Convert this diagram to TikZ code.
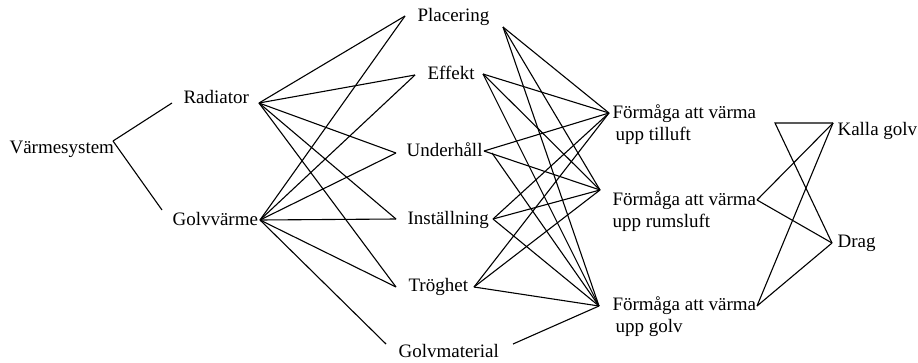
\documentclass[tikz,border=0pt]{standalone}
\usepackage{fontspec}
\setmainfont{Liberation Serif}

\begin{document}
\begin{tikzpicture}[x=1pt,y=-1pt,line width=1.1pt,
lbl/.style ={font=\fontsize{19}{22}\selectfont, inner sep=0pt, anchor=base west},
twoline/.style ={lbl, align=left}]

\useasboundingbox (0,0) rectangle (918,362);

% labels
\node[lbl] (vs) at (9,153) {Värmesystem};
\node[lbl] (rad) at (183,103) {Radiator};
\node[lbl] (gv) at (172,225) {Golvvärme};
\node[lbl] (pl) at (417,21) {Placering};
\node[lbl] (ef) at (427,79) {Effekt};
\node[lbl] (un) at (406,156) {Underhåll};
\node[lbl] (in) at (407,224) {Inställning};
\node[lbl] (tr) at (408,291) {Tröghet};
\node[lbl] (gm) at (398,357) {Golvmaterial};
\node[twoline] (f1) at (612,140) {Förmåga att värma\\\hspace*{3pt}upp tilluft};
\node[twoline] (f2) at (612,227) {Förmåga att värma\\upp rumsluft};
\node[twoline] (f3) at (612,332) {Förmåga att värma\\\hspace*{3pt}upp golv};
\node[lbl] (kg) at (837,135) {Kalla golv};
\node[lbl] (dr) at (837,247) {Drag};

% connection points
\coordinate (vs-r) at (113,141);
\coordinate (rad-l) at (172,103);
\coordinate (rad-r) at (259,103);
\coordinate (gv-l) at (162,210);
\coordinate (gv-r) at (260,220);
\coordinate (pl-l) at (405,16);
\coordinate (pl-r) at (503,27);
\coordinate (ef-l) at (415,75);
\coordinate (ef-r) at (483,74);
\coordinate (un-l) at (396,153);
\coordinate (un-r) at (484,151);
\coordinate (un-r2) at (492,153);
\coordinate (in-l) at (396,219);
\coordinate (in-r) at (493,219);
\coordinate (tr-l) at (396,287);
\coordinate (tr-r) at (474,287);
\coordinate (gm-l) at (386,344);
\coordinate (gm-r) at (513,344);
\coordinate (f1-l) at (609,113);
\coordinate (f2-l) at (600,190);
\coordinate (f2-r) at (757,200);
\coordinate (f3-l) at (599,306);
\coordinate (f3-r) at (757,306);
\coordinate (kg-l) at (833,123);
\coordinate (dr-l) at (832,243);
\coordinate (loose) at (775,123);

\draw (vs-r) edge (rad-l) edge (gv-l);
\draw (rad-r) edge (pl-l) edge (ef-l) edge (un-l) edge (in-l) edge (tr-l);
\draw (gv-r) edge (pl-l) edge (ef-l) edge (un-l) edge (in-l) edge (tr-l) edge (gm-l);

\foreach \a in {pl-r,ef-r,in-r,tr-r}
  \draw (\a) edge (f1-l) edge (f2-l) edge (f3-l);
\draw (un-r) edge (f1-l) edge (f2-l);
\draw (un-r2) edge (f3-l);
\draw (gm-r) edge (f3-l);

\draw (f2-r) edge (kg-l) edge (dr-l);
\draw (f3-r) edge (kg-l) edge (dr-l);
\draw (kg-l) -- (loose) -- (dr-l);
\end{tikzpicture}
\end{document}
